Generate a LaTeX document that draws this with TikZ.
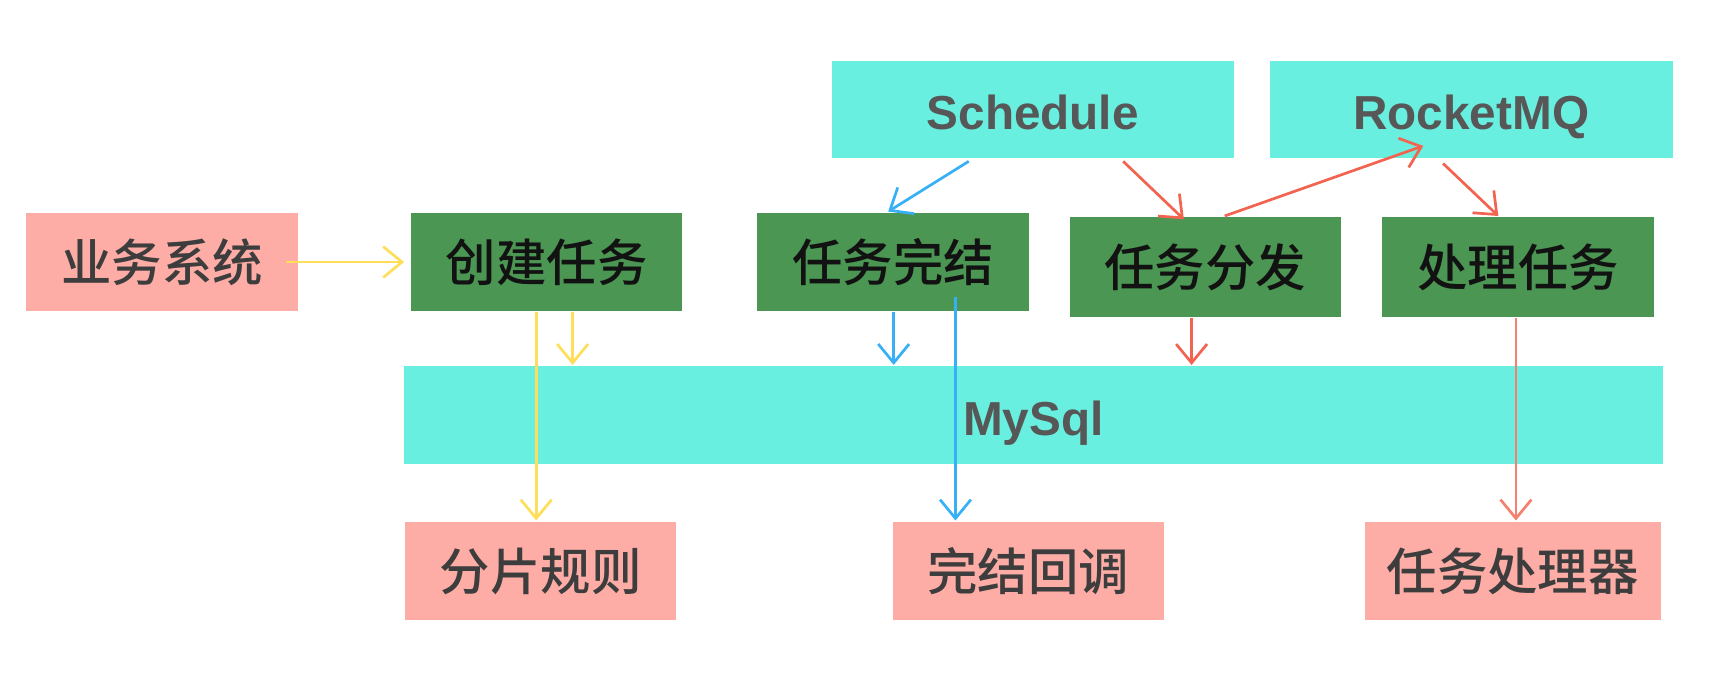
\documentclass[tikz,border=0pt]{standalone}
\usepackage{fontspec}
\setmainfont{Liberation Sans}
\newfontfamily\cjk{Noto Sans CJK SC}[BoldFont={Noto Sans CJK SC Medium}]
\usetikzlibrary{arrows.meta}
\definecolor{cyanbox}{RGB}{104,239,223}
\definecolor{greenbox}{RGB}{74,150,82}
\definecolor{pinkbox}{RGB}{253,173,166}
\definecolor{yellowline}{RGB}{255,222,90}
\definecolor{blueline}{RGB}{56,176,245}
\definecolor{redline}{RGB}{243,100,80}
\definecolor{salmonline}{RGB}{246,128,112}
\begin{document}
\begin{tikzpicture}[x=0.1mm, y=-0.1mm,
  -{Straight Barb[length=1.7mm,width=2.8mm]}, line width=0.7pt,
  box/.style={inner sep=0pt, minimum width=24.6mm, minimum height=8.9mm, font=\fontsize{13pt}{15pt}\selectfont\cjk\bfseries},
  pink node/.style={box, fill=pinkbox, text=black!76},
  green node/.style={box, fill=greenbox, text=black!93},
  cyan node/.style={box, fill=cyanbox, text=black!66, minimum width=36.4mm, minimum height=8.8mm,
    text height=3.7mm, text depth=0mm, font=\fontsize{12.3pt}{15pt}\selectfont\bfseries}]
        \useasboundingbox (0,0) rectangle (1568,623.6);

          \node[pink node] (biz) at (147,237.5) {业务系统};
          \node[green node] (create) at (495.5,237.5) {创建任务};
          \node[green node] (finish) at (809.5,237.5) {任务完结};
          \node[green node, minimum height=9mm] (dispatch) at (1092.5,242) {任务分发};
          \node[green node, minimum height=9mm] (handle) at (1376,242) {处理任务};
          \node[cyan node] (sched) at (936,99) {Schedule};
          \node[cyan node, minimum width=36.5mm] (mq) at (1333.5,99) {RocketMQ};
          \node[cyan node, minimum width=114.1mm, minimum height=8.9mm] (mysql) at (936.5,376.5) {MySql};
          \node[pink node] (shard) at (490,517.5) {分片规则};
          \node[pink node] (callback) at (932,517.5) {完结回调};
          \node[pink node, minimum width=26.8mm] (handler) at (1371,517.5) {任务处理器};

          % yellow: create task
          \draw[yellowline, shorten >=0.5mm] ([xshift=-1.2mm]biz.east) -- (create.west);
          \draw[yellowline] ([xshift=-0.95mm]create.south) -- ([xshift=-0.95mm]create.south |- shard.north);
          \draw[yellowline] ([xshift=2.35mm]create.south) -- ([xshift=2.35mm]create.south |- mysql.north);

          % blue: finish task
          \draw[blueline] ([xshift=-5.8mm, yshift=-0.2mm]sched.south) -- ([xshift=-0.45mm]finish.north);
          \draw[blueline] ([xshift=0.05mm]finish.south) -- ([xshift=0.05mm]finish.south |- mysql.north);
          \draw[blueline] ([xshift=5.65mm, yshift=1.4mm]finish.south) -- ([xshift=5.65mm]finish.south |- callback.north);

          % red: dispatch and handle
          \draw[redline] ([xshift=8.2mm, yshift=-0.2mm]sched.south) -- ([xshift=-1.95mm, yshift=-0.3mm]dispatch.north);
          \draw[redline] ([xshift=1.75mm]dispatch.north) -- ([xshift=-4.35mm, yshift=1.2mm]mq.south);
          \draw[redline] ([xshift=-2.55mm, yshift=-0.4mm]mq.south) -- ([xshift=-1.8mm]handle.north);
          \draw[redline] ([xshift=-1.25mm]dispatch.south) -- ([xshift=-1.25mm]dispatch.south |- mysql.north);
          \draw[salmonline] ([xshift=-0.2mm]handle.south) -- ([xshift=-0.2mm]handle.south |- handler.north);

        \end{tikzpicture}
\end{document}
